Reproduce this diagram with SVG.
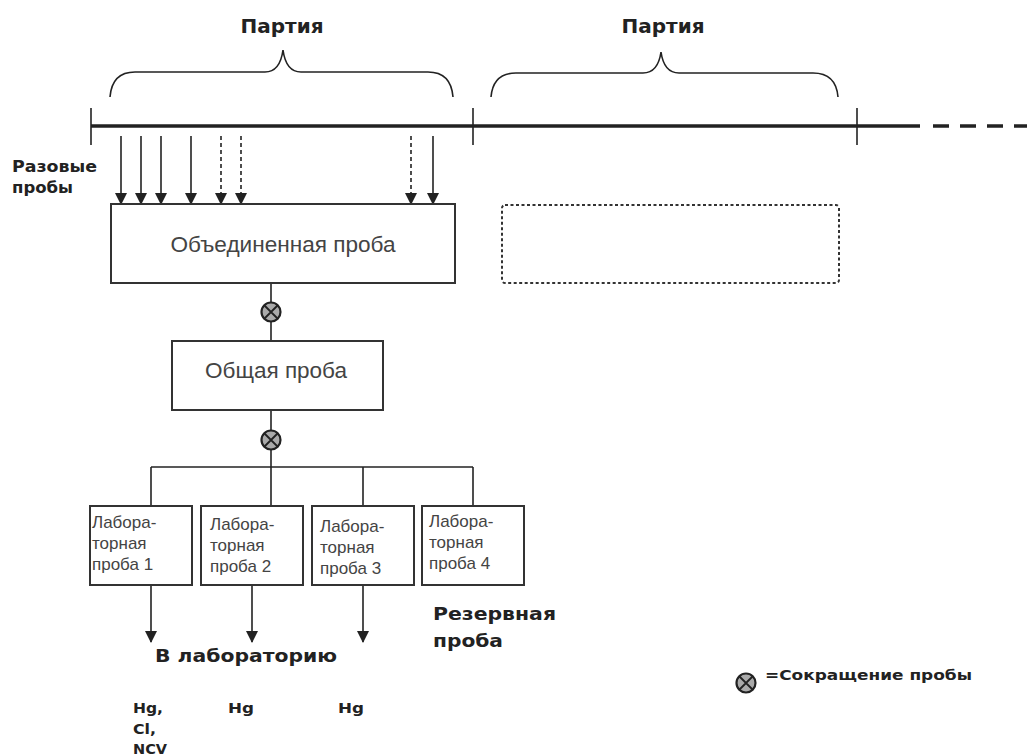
<svg xmlns="http://www.w3.org/2000/svg" width="1027" height="756" viewBox="0 0 1027 756">
<defs>
<style>
.ln{stroke:#222;stroke-width:1.6;fill:none}
.box{stroke:#333;stroke-width:2;fill:#fff}
.t{font-family:"Liberation Sans",Arial,sans-serif;fill:#444}
.b{font-family:"DejaVu Sans",Verdana,sans-serif;font-weight:bold;fill:#222}
.lab{font-size:17px}
.dsh{stroke-dasharray:4 3}
</style>
<marker id="ah" markerWidth="12" markerHeight="12" refX="11" refY="6" orient="auto" markerUnits="userSpaceOnUse" viewBox="0 0 12 12">
<path d="M0,0 L12,6 L0,12 Z" fill="#222"/>
</marker>
<g id="red">
<circle cx="0" cy="0" r="9.5" fill="#aaa" stroke="#222" stroke-width="2.2"/>
<path d="M-6.5,-6.5 L6.5,6.5 M6.5,-6.5 L-6.5,6.5" stroke="#222" stroke-width="1.8"/>
</g>
</defs>
<rect width="1027" height="756" fill="#fff"/>

<g id="timeline">
<line x1="91" y1="126" x2="920" y2="126" stroke="#222" stroke-width="3.5"/>
<line x1="933" y1="126" x2="1027" y2="126" stroke="#222" stroke-width="3.5" stroke-dasharray="16 11"/>
<line x1="91" y1="108" x2="91" y2="145" class="ln"/>
<line x1="473" y1="108" x2="473" y2="145" class="ln"/>
<line x1="857" y1="108" x2="857" y2="145" class="ln"/>
<path class="ln" d="M110,97 Q112,72 135,72 L265,72 Q280,72 283,50 Q286,72 301,72 L428,72 Q451,72 453,97"/>
<path class="ln" d="M491,97 Q493,73 516,73 L643,73 Q658,73 661,52 Q664,73 679,73 L813,73 Q836,73 838,97"/>
<text class="b" x="282" y="33" font-size="19" text-anchor="middle" textLength="83" lengthAdjust="spacingAndGlyphs">Партия</text>
<text class="b" x="663" y="33" font-size="19" text-anchor="middle" textLength="83" lengthAdjust="spacingAndGlyphs">Партия</text>
<text class="b" x="12" y="172" font-size="16" textLength="85" lengthAdjust="spacingAndGlyphs">Разовые</text>
<text class="b" x="12" y="193" font-size="16" textLength="61" lengthAdjust="spacingAndGlyphs">пробы</text>
</g>

<g id="connectors">
<line x1="121" y1="136" x2="121" y2="204" class="ln" marker-end="url(#ah)"/>
<line x1="141" y1="136" x2="141" y2="204" class="ln" marker-end="url(#ah)"/>
<line x1="161" y1="136" x2="161" y2="204" class="ln" marker-end="url(#ah)"/>
<line x1="191" y1="136" x2="191" y2="204" class="ln" marker-end="url(#ah)"/>
<line x1="221" y1="136" x2="221" y2="204" class="ln dsh" marker-end="url(#ah)"/>
<line x1="241" y1="136" x2="241" y2="204" class="ln dsh" marker-end="url(#ah)"/>
<line x1="411" y1="136" x2="411" y2="204" class="ln dsh" marker-end="url(#ah)"/>
<line x1="433" y1="136" x2="433" y2="204" class="ln" marker-end="url(#ah)"/>
<line x1="271" y1="283" x2="271" y2="341" class="ln"/>
<line x1="271" y1="410" x2="271" y2="506" class="ln"/>
<line x1="151" y1="467" x2="473" y2="467" class="ln"/>
<line x1="151" y1="467" x2="151" y2="506" class="ln"/>
<line x1="363" y1="467" x2="363" y2="506" class="ln"/>
<line x1="473" y1="467" x2="473" y2="506" class="ln"/>
<line x1="151" y1="585" x2="151" y2="642" class="ln" marker-end="url(#ah)"/>
<line x1="252" y1="585" x2="252" y2="642" class="ln" marker-end="url(#ah)"/>
<line x1="363" y1="585" x2="363" y2="642" class="ln" marker-end="url(#ah)"/>
<use href="#red" x="271" y="312"/>
<use href="#red" x="271" y="440"/>
</g>

<g id="combined">
<rect x="111" y="204" width="344" height="79" class="box"/>
<text class="t" x="283" y="252" font-size="22" text-anchor="middle" textLength="225" lengthAdjust="spacingAndGlyphs">Объединенная проба</text>
</g>
<g id="next-combined">
<rect x="502" y="205" width="337" height="78" rx="3" fill="none" stroke="#333" stroke-width="2" stroke-dasharray="3 2.5"/>
</g>
<g id="general">
<rect x="172" y="341" width="211" height="69" class="box"/>
<text class="t" x="276" y="378" font-size="22" text-anchor="middle" textLength="142" lengthAdjust="spacingAndGlyphs">Общая проба</text>
</g>
<g id="lab1">
<rect x="90" y="506" width="102" height="79" class="box"/>
<text class="t lab"><tspan x="92" y="528">Лабора-</tspan><tspan x="92" y="549">торная</tspan><tspan x="92" y="570">проба 1</tspan></text>
</g>
<g id="lab2">
<rect x="201" y="506" width="102" height="79" class="box"/>
<text class="t lab"><tspan x="210" y="530">Лабора-</tspan><tspan x="210" y="551">торная</tspan><tspan x="210" y="572">проба 2</tspan></text>
</g>
<g id="lab3">
<rect x="312" y="506" width="102" height="79" class="box"/>
<text class="t lab"><tspan x="320" y="532">Лабора-</tspan><tspan x="320" y="553">торная</tspan><tspan x="320" y="574">проба 3</tspan></text>
</g>
<g id="lab4">
<rect x="422" y="506" width="102" height="79" class="box"/>
<text class="t lab"><tspan x="429" y="527">Лабора-</tspan><tspan x="429" y="548">торная</tspan><tspan x="429" y="569">проба 4</tspan></text>
</g>

<g id="labels">
<text class="b" x="155" y="662" font-size="18" textLength="182" lengthAdjust="spacingAndGlyphs">В лабораторию</text>
<text class="b" x="433" y="620" font-size="18" textLength="123" lengthAdjust="spacingAndGlyphs">Резервная</text>
<text class="b" x="433" y="647" font-size="18" textLength="70" lengthAdjust="spacingAndGlyphs">проба</text>
<text class="b" x="133" y="713" font-size="14" textLength="30" lengthAdjust="spacingAndGlyphs">Hg,</text>
<text class="b" x="133" y="734" font-size="14" textLength="23" lengthAdjust="spacingAndGlyphs">Cl,</text>
<text class="b" x="133" y="754" font-size="14" textLength="34" lengthAdjust="spacingAndGlyphs">NCV</text>
<text class="b" x="228" y="713" font-size="14" textLength="26" lengthAdjust="spacingAndGlyphs">Hg</text>
<text class="b" x="338" y="713" font-size="14" textLength="26" lengthAdjust="spacingAndGlyphs">Hg</text>
</g>

<g id="legend">
<use href="#red" x="746" y="683"/>
<text class="b" x="765" y="680" font-size="14" textLength="207" lengthAdjust="spacingAndGlyphs">=Сокращение пробы</text>
</g>
</svg>
